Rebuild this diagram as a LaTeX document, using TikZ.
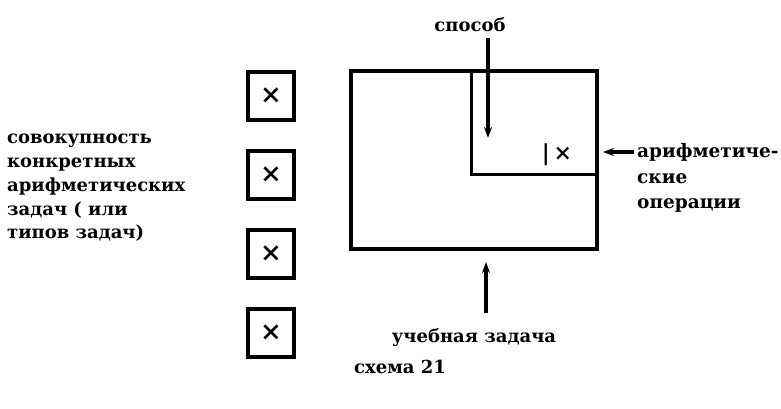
\documentclass[tikz,border=0pt]{standalone}
\usepackage{fontspec}
\setmainfont{DejaVu Serif}
\usetikzlibrary{arrows.meta,positioning}

\begin{document}
\begin{tikzpicture}[x=1pt,y=-1pt,>={Stealth[length=11pt,width=8pt]},node distance=79pt,
    testo/.style={font=\bfseries\fontsize{18}{24}\selectfont,inner sep=0pt},
    casella/.style={draw,line width=3.4pt,minimum width=46pt,minimum height=48pt,
        inner sep=0pt,font=\bfseries\fontsize{26}{26}\selectfont},
    freccia/.style={->,line width=3.2pt}]
        \useasboundingbox (0,0) rectangle (781,409);
        % riquadri
        \node[draw,line width=3.4pt,minimum width=246pt,minimum height=178pt] (Z) at (474,160) {};
        \node[draw,line width=3pt,minimum width=126pt,minimum height=103pt] (S) at (534,122.5) {};
        \node[testo,font=\bfseries\fontsize{22}{22}\selectfont] (op) at (557,155) {|\,×};
        \node[casella] (c1) at (271,96) {×};
        \node[casella] (c2) [below of=c1] {×};
        \node[casella] (c3) [below of=c2] {×};
        \node[casella] (c4) [below of=c3] {×};
        % testi
        \node[testo] (sp) at (470,25) {способ};
        \node[testo,anchor=west,align=left,font=\bfseries\fontsize{18.5}{25.5}\selectfont]
            (ar) at (637,178) {арифметиче-\\ские\\операции};
        \node[testo,anchor=west,align=left,font=\bfseries\fontsize{18}{23.8}\selectfont]
            (ins) at (7,188) {совокупность\\конкретных\\арифметических\\задач ( или\\типов задач)};
        \node[testo] (uz) at (474,338) {учебная задача};
        \node[testo] (sch) at (400,367) {схема 21};
        % frecce
        \coordinate (sptip) at (488,138);
        \coordinate (artip) at (603,152);
        \coordinate (uztip) at (486,262);
        \draw[freccia] (sptip |- sp.south) ++(0,6) -- (sptip);
        \draw[freccia] (artip -| ar.west) ++(-3,0) -- (artip);
        \draw[freccia,shorten <=16pt] (uztip |- uz.north) -- (uztip);
\end{tikzpicture}
\end{document}
